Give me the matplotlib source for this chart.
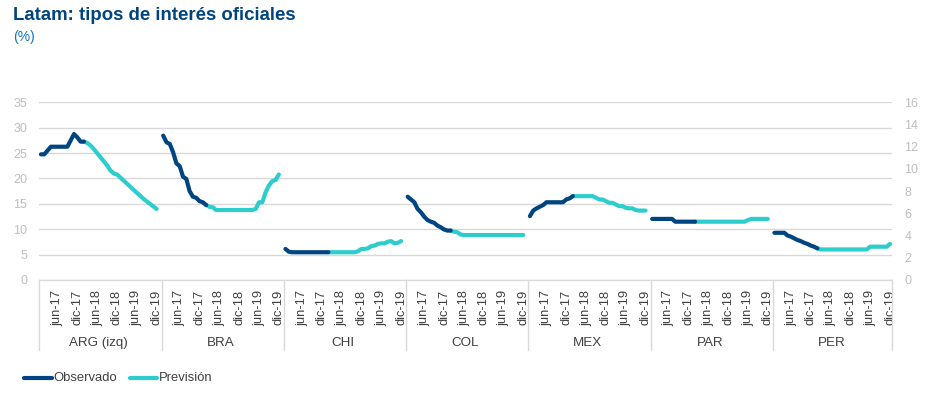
import matplotlib
matplotlib.use("Agg")
import matplotlib.pyplot as plt
import matplotlib.transforms as mtransforms
from matplotlib.lines import Line2D
import numpy as np

plt.rcParams['font.family'] = ['Liberation Sans', 'DejaVu Sans']

# monthly data, ene-17 .. dic-19 (36 months per country)
month_names = ['ene', 'feb', 'mar', 'abr', 'may', 'jun', 'jul', 'ago', 'sep', 'oct', 'nov', 'dic']
years = ['17', '18', '19']
months = [f"{m}-{y}" for y in years for m in month_names]
shown_ticks = ['jun', 'dic']

countries = ['ARG (izq)', 'BRA', 'CHI', 'COL', 'MEX', 'PAR', 'PER']
last_observed = 'feb-18'

arg = [24.75, 24.75, 25.5, 26.25, 26.25, 26.25, 26.25, 26.25, 26.25, 27.5, 28.75, 28.1,
       27.25, 27.25, 27.0, 26.5, 25.8, 25.0, 24.2, 23.4, 22.6, 21.6, 21.0, 20.8,
       20.2, 19.6, 19.0, 18.4, 17.8, 17.2, 16.6, 16.0, 15.5, 15.0, 14.5, 14.0]
bra = [13.0, 12.4, 12.25, 11.5, 10.5, 10.25, 9.3, 9.1, 8.0, 7.5, 7.4, 7.1,
       7.0, 6.75, 6.6, 6.55, 6.3, 6.3, 6.3, 6.3, 6.3, 6.3, 6.3, 6.3,
       6.3, 6.3, 6.3, 6.3, 6.4, 7.0, 7.0, 7.9, 8.5, 8.9, 9.0, 9.5]
chi = [2.8, 2.55, 2.5, 2.5, 2.5, 2.5, 2.5, 2.5, 2.5, 2.5, 2.5, 2.5,
       2.5, 2.5, 2.5, 2.5, 2.5, 2.5, 2.5, 2.5, 2.5, 2.5, 2.6, 2.8,
       2.8, 2.85, 3.05, 3.1, 3.25, 3.3, 3.3, 3.45, 3.5, 3.3, 3.35, 3.5]
col = [7.5, 7.25, 7.0, 6.4, 6.1, 5.7, 5.4, 5.25, 5.15, 4.9, 4.75, 4.55,
       4.45, 4.45, 4.35, 4.3, 4.1, 4.05, 4.05, 4.05, 4.05, 4.05, 4.05, 4.05,
       4.05, 4.05, 4.05, 4.05, 4.05, 4.05, 4.05, 4.05, 4.05, 4.05, 4.05, 4.05]
mex = [5.75, 6.25, 6.45, 6.6, 6.75, 7.0, 7.0, 7.0, 7.0, 7.0, 7.0, 7.25,
       7.35, 7.55, 7.55, 7.55, 7.55, 7.55, 7.55, 7.55, 7.4, 7.25, 7.25, 7.1,
       6.95, 6.95, 6.8, 6.65, 6.65, 6.5, 6.45, 6.45, 6.3, 6.25, 6.25, 6.25]
par = [5.5, 5.5, 5.5, 5.5, 5.5, 5.5, 5.5, 5.25, 5.25, 5.25, 5.25, 5.25,
       5.25, 5.25, 5.25, 5.25, 5.25, 5.25, 5.25, 5.25, 5.25, 5.25, 5.25, 5.25,
       5.25, 5.25, 5.25, 5.25, 5.25, 5.4, 5.5, 5.5, 5.5, 5.5, 5.5, 5.5]
per = [4.25, 4.25, 4.25, 4.25, 4.0, 3.9, 3.75, 3.6, 3.5, 3.35, 3.25, 3.1,
       3.0, 2.85, 2.75, 2.75, 2.75, 2.75, 2.75, 2.75, 2.75, 2.75, 2.75, 2.75,
       2.75, 2.75, 2.75, 2.75, 2.75, 3.0, 3.0, 3.0, 3.0, 3.0, 3.0, 3.25]
series = [arg, bra, chi, col, mex, par, per]

left_ticks = [0, 5, 10, 15, 20, 25, 30, 35]
right_ticks = [0, 2, 4, 6, 8, 10, 12, 14, 16]

c_obs = '#004481'
c_fc = '#2DCCCD'
c_grid = '#d9d9d9'
c_tick = '#bfbfbf'
c_text = '#404040'

W, H = 935, 395
fig = plt.figure(figsize=(W / 100, H / 100), dpi=100)
ax_l, ax_r, ax_t, ax_b = 39.3, 891.7, 102.3, 280
ax = fig.add_axes([ax_l / W, 1 - ax_b / H, (ax_r - ax_l) / W, (ax_b - ax_t) / H])
ax2 = ax.twinx()

slot = len(months) + 1  # one blank category between groups
n_slots = slot * len(countries) - 1
cut = months.index(last_observed)

for g, vals in enumerate(series):
    target = ax if g == 0 else ax2
    x = g * slot + np.arange(len(vals))
    v = np.array(vals)
    target.plot(x[:cut + 1], v[:cut + 1], color=c_obs, lw=3, solid_capstyle='round', zorder=3)
    target.plot(x[cut:], v[cut:], color=c_fc, lw=3, solid_capstyle='round', zorder=2)

for a in (ax, ax2):
    a.set_xlim(-0.5, n_slots - 0.5)
    for s in ('top', 'left', 'right'):
        a.spines[s].set_visible(False)
    a.spines['bottom'].set_color(c_grid)
    a.tick_params(axis='y', length=0, labelsize=9, labelcolor=c_tick)

ax.set_ylim(0, 35)
ax.set_yticks(left_ticks)
ax.tick_params(axis='y', pad=8.8)
ax.yaxis.grid(True, color=c_grid, lw=1)
ax.set_axisbelow(True)
ax2.set_ylim(0, 16)
ax2.set_yticks(right_ticks)
ax2.tick_params(axis='y', pad=9)

tick_pos, tick_lab = [], []
for g in range(len(countries)):
    for i, m in enumerate(months):
        if m[:3] in shown_ticks:
            tick_pos.append(g * slot + i)
            tick_lab.append(m)
ax.set_xticks(tick_pos)
ax.set_xticklabels(tick_lab, rotation=90, fontsize=9.3, color=c_text)
ax.tick_params(axis='x', length=0, pad=7)

trans = mtransforms.blended_transform_factory(ax.transData, ax.transAxes)
ax_h = ax_b - ax_t
for g, name in enumerate(countries):
    ax.text(g * slot + (len(months) - 1) / 2, -(343 - ax_b) / ax_h, name, transform=trans,
            ha='center', va='center', fontsize=9.6, color=c_text)
for b in [g * slot - 0.5 for g in range(len(countries))] + [n_slots - 0.5]:
    ax.plot([b, b], [0, -(350 - ax_b) / ax_h], transform=trans, color=c_grid, lw=1, clip_on=False)

# title
fig.text(13 / W, 1 - 16 / H, 'Latam: tipos de interés oficiales', fontsize=13.4, fontweight='bold',
         color=c_obs, ha='left', va='center')
fig.text(13 / W, 1 - 37 / H, '(%)', fontsize=10, color='#1973B8', ha='left', va='center')

# legend
ly = 1 - 378 / H
fig.add_artist(Line2D([24 / W, 52 / W], [ly, ly], color=c_obs, lw=3, solid_capstyle='round'))
fig.text(53 / W, ly, 'Observado', fontsize=9.4, color=c_text, ha='left', va='center')
fig.add_artist(Line2D([130 / W, 157 / W], [ly, ly], color=c_fc, lw=3, solid_capstyle='round'))
fig.text(159 / W, ly, 'Previsión', fontsize=9.4, color=c_text, ha='left', va='center')

fig.savefig('out.png', dpi=100)
